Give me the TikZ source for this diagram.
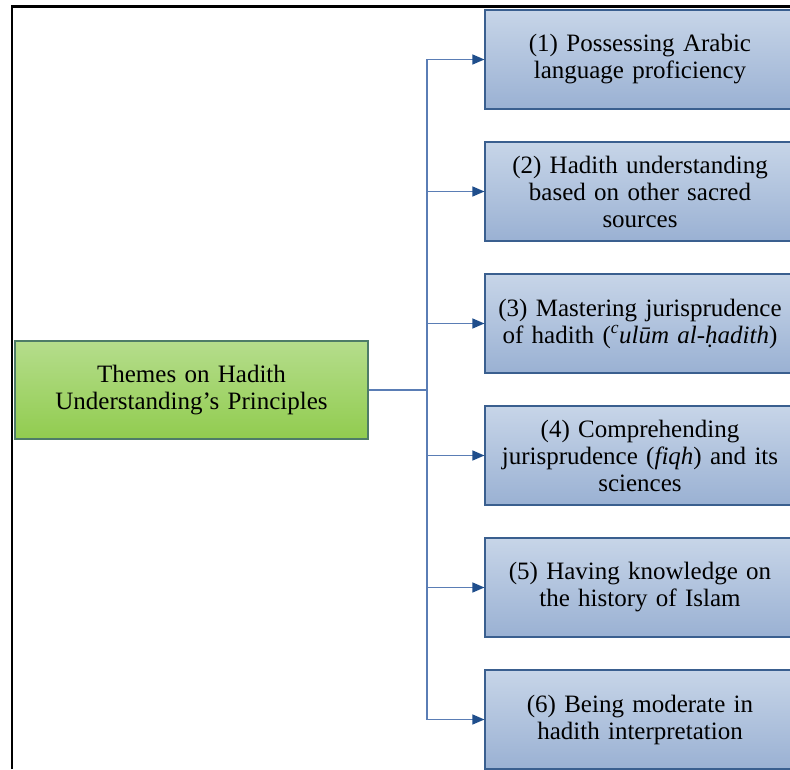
\documentclass[tikz,border=0pt]{standalone}
\usepackage{fontspec}
\setmainfont{Liberation Serif}
\usepackage{xcolor}
\usetikzlibrary{arrows.meta,positioning}

\definecolor{bleuhaut}{HTML}{C7D5E8}
\definecolor{bleubas}{HTML}{9AB1D3}
\definecolor{bleubord}{HTML}{3A5F8F}
\definecolor{verthaut}{HTML}{B5DD8C}
\definecolor{vertbas}{HTML}{91CC4F}
\definecolor{vertbord}{HTML}{4E7C68}
\definecolor{trait}{HTML}{5A7DB5}
\definecolor{pointe}{HTML}{1F4E8C}

\tikzset{
  racine/.style={draw=vertbord, line width=1.2pt, top color=verthaut, bottom color=vertbas,
    minimum width=353pt, minimum height=98pt, text width=340pt, align=center,
    inner sep=0pt, font=\fontsize{25}{27}\selectfont},
  branche/.style={draw=bleubord, line width=1.2pt, top color=bleuhaut, bottom color=bleubas,
    minimum width=310pt, minimum height=99pt, text width=306pt, align=center,
    inner sep=0pt, font=\fontsize{25}{27}\selectfont},
  lien/.style={draw=trait, line width=1.3pt},
  fleche/.style={lien, -{Triangle[length=12pt,width=10pt,color=pointe]}}
}

\begin{document}
\begin{tikzpicture}[x=1pt,y=1pt]
    % Cadre et fond
    \fill[white] (0,0) rectangle (790,769);
    \useasboundingbox (0,0) rectangle (790,769);
    \draw[line width=2.4pt] (12,0) |- (790,762.5);

    % Noeud principal
    \node (racine) at (191.5,379) [racine] {Themes on Hadith\\Understanding’s Principles};

    % Les six thèmes
    \node (theme1) at (640,709.5) [branche] {(1) Possessing Arabic\\language proficiency};
    \node (theme2) at (640,577.5) [branche] {(2) Hadith understanding\\based on other sacred\\sources};
    \node (theme3) at (640,445.5) [branche] {(3) Mastering jurisprudence\\of hadith (\textsuperscript{\textit{c}}\textit{ulūm al-ḥadith})};
    \node (theme4) at (640,313.5) [branche] {(4) Comprehending\\jurisprudence (\textit{fiqh}) and its\\sciences};
    \node (theme5) at (640,181.5) [branche] {(5) Having knowledge on\\the history of Islam};
    \node (theme6) at (640,49.5) [branche] {(6) Being moderate in\\hadith interpretation};

    % Liaisons
    \coordinate (fourche) at (427,379);
    \draw[lien] (racine.east) -- (fourche);
    \draw[fleche] (fourche) |- (theme1.west);
    \draw[fleche] (fourche) |- (theme2.west);
    \draw[fleche] (fourche) |- (theme3.west);
    \draw[fleche] (fourche) |- (theme4.west);
    \draw[fleche] (fourche) |- (theme5.west);
    \draw[fleche] (fourche) |- (theme6.west);
\end{tikzpicture}
\end{document}
